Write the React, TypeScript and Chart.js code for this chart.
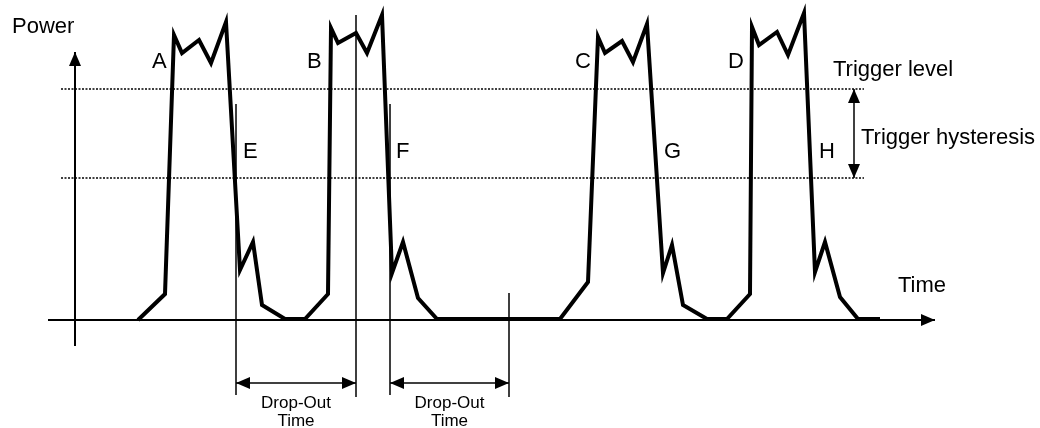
import React, { useEffect, useRef } from "react";
import { Chart, registerables } from "chart.js";

Chart.register(...registerables);

// Waveform: time (x) vs power (y); baseline at power 0
const traceTime = [63, 90, 99, 107, 124, 136, 151, 165, 178, 187, 210, 230, 253, 256, 263, 281, 292, 307, 317, 328, 343, 362, 485, 513, 523, 530, 547, 558, 572, 588, 597, 608, 632, 652, 675, 677, 684, 702, 713, 729, 740, 750, 765, 783, 805];
const tracePower = [0, 26, 285, 267, 280, 257, 298, 50, 78, 15, 1, 1, 26, 292, 277, 287, 267, 305, 47, 78, 22, 1, 1, 38, 283, 267, 279, 258, 296, 47, 75, 15, 1, 1, 26, 293, 275, 288, 265, 307, 48, 78, 23, 1, 1];

// Trigger thresholds
const triggerLevel = 231;
const triggerLow = 142;
const thresholdSpan = [-14, 789];
const hysteresisTime = 779;

// Axis extents
const axisTimeRange = [-27, 860];
const axisPowerRange = [-26, 268];

// Marker lines: [time, powerTop, powerBottom]
const markerTimes = [161, 281, 315, 434];
const markerTops = [216, 305, 216, 27];
const markerBottoms = [-75, -77, -75, -77];

// Drop-out brackets
const dropStart = [161, 315];
const dropEnd = [281, 434];
const dropPower = -63;

const peakLabels = ["A", "B", "C", "D"];
const peakLabelTimes = [77, 232, 500, 653];
const fallLabels = ["E", "F", "G", "H"];
const fallLabelTimes = [168, 321, 589, 744];

const xMin = -75, xMax = 965, yMin = -108, yMax = 320;

const FONT = '"Liberation Sans", Arial, sans-serif';

export default function App() {
  const ref = useRef<HTMLCanvasElement | null>(null);

  useEffect(() => {
    if (!ref.current) return;
    const pts = (xs: number[], ys: number[]) => xs.map((x, i) => ({ x, y: ys[i] }));
    const line = (data: any[], width: number, extra: any = {}) => ({
      data,
      borderColor: "#000",
      borderWidth: width,
      showLine: true,
      pointRadius: 0,
      tension: 0,
      fill: false,
      ...extra,
    });

    const datasets: any[] = [];
    // axes
    datasets.push(line([{ x: axisTimeRange[0], y: 0 }, { x: axisTimeRange[1], y: 0 }], 2, { arrowEnd: true }));
    datasets.push(line([{ x: 0, y: axisPowerRange[0] }, { x: 0, y: axisPowerRange[1] }], 2, { arrowEnd: true }));
    // thresholds
    datasets.push(line([{ x: thresholdSpan[0], y: triggerLevel }, { x: thresholdSpan[1], y: triggerLevel }], 1.5, { borderDash: [2, 1.5] }));
    datasets.push(line([{ x: thresholdSpan[0], y: triggerLow }, { x: thresholdSpan[1], y: triggerLow }], 1.5, { borderDash: [2, 1.5] }));
    // hysteresis arrow
    datasets.push(line([{ x: hysteresisTime, y: triggerLow }, { x: hysteresisTime, y: triggerLevel }], 1.5, { arrowEnd: true, arrowStart: true }));
    // markers
    markerTimes.forEach((t, i) => {
      datasets.push(line([{ x: t, y: markerTops[i] }, { x: t, y: markerBottoms[i] }], 1.5));
    });
    // drop-out brackets
    dropStart.forEach((s, i) => {
      datasets.push(line([{ x: s, y: dropPower }, { x: dropEnd[i], y: dropPower }], 1.5, { arrowEnd: true, arrowStart: true }));
    });
    // waveform
    datasets.push(line(pts(traceTime, tracePower), 4, { borderJoinStyle: "miter" }));

    const arrowPlugin = {
      id: "arrowsAndText",
      afterDatasetsDraw(chart: any) {
        const { ctx, scales } = chart;
        const xs = scales.x, ys = scales.y;
        const head = (x1: number, y1: number, x2: number, y2: number) => {
          const a = Math.atan2(y2 - y1, x2 - x1);
          const L = 14, W = 6;
          ctx.save();
          ctx.fillStyle = "#000";
          ctx.beginPath();
          ctx.moveTo(x2, y2);
          ctx.lineTo(x2 - L * Math.cos(a) + W * Math.sin(a), y2 - L * Math.sin(a) - W * Math.cos(a));
          ctx.lineTo(x2 - L * Math.cos(a) - W * Math.sin(a), y2 - L * Math.sin(a) + W * Math.cos(a));
          ctx.closePath();
          ctx.fill();
          ctx.restore();
        };
        chart.data.datasets.forEach((ds: any) => {
          const d = ds.data;
          if (d.length < 2) return;
          const p0 = { x: xs.getPixelForValue(d[0].x), y: ys.getPixelForValue(d[0].y) };
          const p1 = { x: xs.getPixelForValue(d[d.length - 1].x), y: ys.getPixelForValue(d[d.length - 1].y) };
          if (ds.arrowEnd) head(p0.x, p0.y, p1.x, p1.y);
          if (ds.arrowStart) head(p1.x, p1.y, p0.x, p0.y);
        });

        const txt = (s: string, t: number, p: number, size: number, align: CanvasTextAlign = "left") => {
          ctx.save();
          ctx.font = `${size}px ${FONT}`;
          ctx.fillStyle = "#000";
          ctx.textAlign = align;
          ctx.textBaseline = "alphabetic";
          ctx.fillText(s, xs.getPixelForValue(t), ys.getPixelForValue(p));
          ctx.restore();
        };
        txt("Power", -63, 287, 22);
        peakLabels.forEach((s, i) => txt(s, peakLabelTimes[i], 252, 22));
        fallLabels.forEach((s, i) => txt(s, fallLabelTimes[i], 162, 22));
        txt("Trigger level", 758, 244, 22);
        txt("Trigger hysteresis", 786, 176, 22);
        txt("Time", 823, 28, 22);
        dropStart.forEach((s, i) => {
          const c = (s + dropEnd[i]) / 2;
          txt("Drop-Out", c, -88, 17, "center");
          txt("Time", c, -106, 17, "center");
        });
      },
    };

    const chart = new Chart(ref.current, {
      type: "scatter",
      data: { datasets },
      options: {
        animation: false,
        responsive: false,
        maintainAspectRatio: false,
        layout: { padding: 0 },
        plugins: { legend: { display: false }, tooltip: { enabled: false }, title: { display: false } },
        scales: {
          x: { type: "linear", min: xMin, max: xMax, display: false },
          y: { type: "linear", min: yMin, max: yMax, display: false },
        },
      },
      plugins: [arrowPlugin],
    });
    return () => chart.destroy();
  }, []);

  return (
    <div style={{ position: "fixed", left: 0, top: 0, width: 1040, height: 428, background: "#fff" }}>
      <canvas ref={ref} width={1040} height={428} />
    </div>
  );
}
